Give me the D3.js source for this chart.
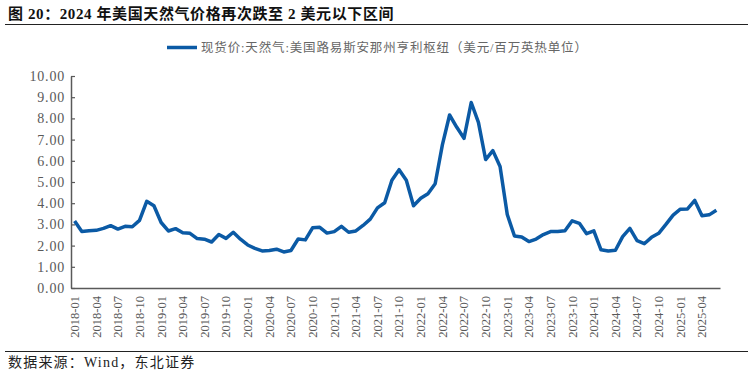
<!DOCTYPE html>
<html>
<head>
<meta charset="utf-8">
<script src="https://cdn.jsdelivr.net/npm/d3@7"></script>
<style>
  body { margin: 0; background: #fff; }
  svg { display: block; }
  .serif { font-family: "Liberation Serif", "Noto Sans CJK SC", serif; }
</style>
</head>
<body>
<svg id="canvas" width="755" height="375"></svg>
<script>
var chartTitle = "图 20：2024 年美国天然气价格再次跌至 2 美元以下区间";
var seriesName = "现货价:天然气:美国路易斯安那州亨利枢纽（美元/百万英热单位）";
var sourceNote = "数据来源：Wind，东北证券";

// monthly, 2018-01 .. 2025-06
var prices = [
  3.16, 2.66, 2.70, 2.72, 2.81, 2.94, 2.78, 2.91, 2.89, 3.19, 4.09, 3.88,
  3.09, 2.69, 2.80, 2.61, 2.58, 2.33, 2.30, 2.17, 2.52, 2.34, 2.63, 2.30,
  2.03, 1.87, 1.75, 1.77, 1.83, 1.70, 1.77, 2.31, 2.27, 2.84, 2.86, 2.59,
  2.66, 2.91, 2.63, 2.69, 2.95, 3.25, 3.78, 4.02, 5.08, 5.58, 5.08, 3.88,
  4.23, 4.45, 4.92, 6.75, 8.16, 7.58, 7.06, 8.75, 7.81, 6.06, 6.48, 5.73,
  3.47, 2.45, 2.41, 2.19, 2.31, 2.52, 2.66, 2.66, 2.70, 3.17, 3.05, 2.56,
  2.70, 1.80, 1.75, 1.78, 2.42, 2.81, 2.23, 2.09, 2.39, 2.58, 3.00, 3.44,
  3.72, 3.73, 4.13, 3.41, 3.45, 3.67
];
var months = d3.utcMonth.range(new Date(Date.UTC(2018, 0, 1)), new Date(Date.UTC(2025, 6, 1)))
  .map(d3.utcFormat("%Y-%m"));
var tickLabels = [
  "2018-01", "2018-04", "2018-07", "2018-10", "2019-01", "2019-04", "2019-07", "2019-10",
  "2020-01", "2020-04", "2020-07", "2020-10", "2021-01", "2021-04", "2021-07", "2021-10",
  "2022-01", "2022-04", "2022-07", "2022-10", "2023-01", "2023-04", "2023-07", "2023-10",
  "2024-01", "2024-04", "2024-07", "2024-10", "2025-01", "2025-04"
];
var yTicks = [0, 1, 2, 3, 4, 5, 6, 7, 8, 9, 10];

var width = 755;
var height = 375;
var margins = { left: 71, right: 35, top: 76, bottom: 87 };
var axisColor = "#595959";
var lineColor = "#0b5aa5";

var canvas = d3.select("#canvas");

// title + rule
canvas.append("text")
  .attr("class", "serif")
  .attr("x", 8)
  .attr("y", 19)
  .attr("font-size", 15)
  .attr("font-weight", "bold")
  .attr("letter-spacing", 0.6)
  .attr("fill", "#111")
  .text(chartTitle);
canvas.append("line")
  .attr("x1", 5).attr("x2", 748)
  .attr("y1", 24.5).attr("y2", 24.5)
  .attr("stroke", "#222").attr("stroke-width", 1.2);

// legend
canvas.append("line")
  .attr("x1", 167).attr("x2", 197)
  .attr("y1", 47.5).attr("y2", 47.5)
  .attr("stroke", lineColor).attr("stroke-width", 3.5);
canvas.append("text")
  .attr("class", "serif")
  .attr("x", 201)
  .attr("y", 52)
  .attr("font-size", 12.5)
  .attr("letter-spacing", 0.85)
  .attr("fill", "#666")
  .text(seriesName);

var x = d3.scaleBand()
  .domain(months)
  .range([margins.left, width - margins.right]);
var y = d3.scaleLinear()
  .domain([0, 10])
  .range([height - margins.bottom, margins.top]);

// y axis
var yAxis = canvas.append("g")
  .attr("transform", "translate(" + margins.left + ",0)")
  .call(
    d3.axisLeft(y)
      .tickValues(yTicks)
      .tickSizeInner(-4)
      .tickSizeOuter(0)
      .tickPadding(6)
      .tickFormat(d3.format(".2f"))
  );
yAxis.select(".domain").attr("stroke", axisColor).attr("stroke-width", 1.5);
yAxis.selectAll(".tick line").attr("stroke", axisColor).attr("stroke-width", 1.2);
yAxis.selectAll(".tick text")
  .attr("class", "serif")
  .attr("font-size", 14)
  .attr("letter-spacing", 0.8)
  .attr("fill", axisColor);

// x axis
var xAxis = canvas.append("g")
  .attr("transform", "translate(0," + (height - margins.bottom) + ")")
  .call(
    d3.axisBottom(x)
      .tickValues(tickLabels)
      .tickSize(0)
      .tickPadding(0)
  );
xAxis.select(".domain").attr("stroke", axisColor).attr("stroke-width", 1.5);
xAxis.selectAll(".tick text")
  .attr("class", "serif")
  .attr("font-size", 12.5)
  .attr("fill", axisColor)
  .attr("transform", "rotate(-90)")
  .attr("text-anchor", "end")
  .attr("x", -8)
  .attr("y", 0)
  .attr("dy", "0.35em");

// series line
var line = d3.line()
  .x(function(d, i) { return x(months[i]) + x.bandwidth() / 2; })
  .y(function(d) { return y(d); });
canvas.append("path")
  .datum(prices)
  .attr("d", line)
  .attr("fill", "none")
  .attr("stroke", lineColor)
  .attr("stroke-width", 3.5)
  .attr("stroke-linejoin", "round");

// bottom rule + source
canvas.append("line")
  .attr("x1", 5).attr("x2", 748)
  .attr("y1", 351.5).attr("y2", 351.5)
  .attr("stroke", "#222").attr("stroke-width", 1.2);
canvas.append("text")
  .attr("class", "serif")
  .attr("x", 8)
  .attr("y", 367)
  .attr("font-size", 14)
  .attr("letter-spacing", 1.2)
  .attr("fill", "#222")
  .text(sourceNote);
</script>
</body>
</html>
